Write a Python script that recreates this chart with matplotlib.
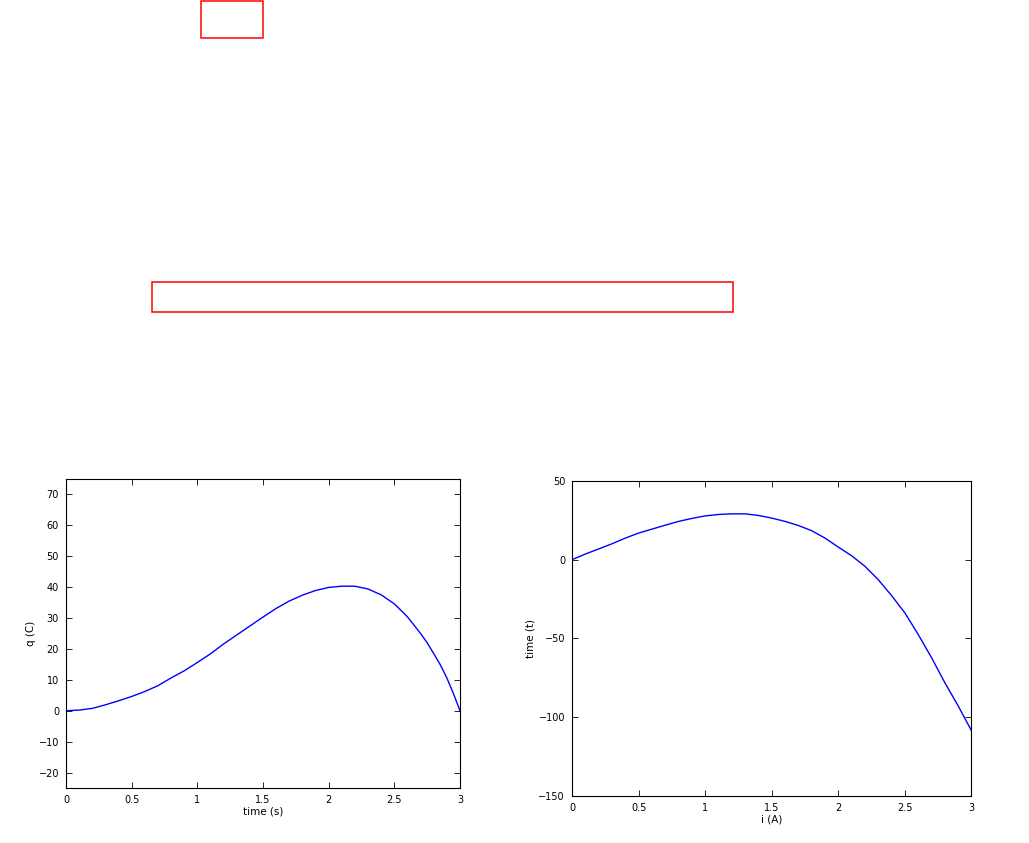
import numpy as np
from matplotlib import pyplot as plt
from matplotlib.patches import Rectangle

# 左图：电荷随时间变化
t = [0, 0.1, 0.2, 0.3, 0.4, 0.5, 0.6, 0.7, 0.8, 0.9, 1.0, 1.1, 1.2, 1.3, 1.4, 1.5,
     1.6, 1.7, 1.8, 1.9, 2.0, 2.1, 2.2, 2.3, 2.4, 2.5, 2.6, 2.7, 2.75, 2.8, 2.85, 2.9, 2.95, 3.0]
q = [0, 0.2, 0.75, 1.9, 3.2, 4.6, 6.2, 8.1, 10.6, 12.9, 15.6, 18.4, 21.6, 24.5, 27.4, 30.3,
     33.1, 35.5, 37.4, 38.9, 39.9, 40.3, 40.3, 39.4, 37.5, 34.6, 30.4, 25.0, 22.0, 18.5, 14.9, 10.6, 5.6, 0]
q_ticks = [-20, -10, 0, 10, 20, 30, 40, 50, 60, 70]

# 右图
cur = [0, 0.1, 0.2, 0.3, 0.4, 0.5, 0.6, 0.7, 0.8, 0.9, 1.0, 1.1, 1.2, 1.3, 1.4, 1.5,
       1.6, 1.7, 1.8, 1.9, 2.0, 2.1, 2.2, 2.3, 2.4, 2.5, 2.6, 2.7, 2.8, 2.9, 3.0]
tm = [0, 3.6, 6.8, 10.1, 13.7, 16.9, 19.4, 21.9, 24.3, 26.2, 27.8, 28.7, 29.1, 29.1, 28.1, 26.4,
      24.3, 21.7, 18.4, 13.7, 8.0, 2.5, -4.2, -12.7, -22.8, -33.8, -47.5, -62.2, -78.1, -92.8, -108.6]
tm_ticks = [-150, -100, -50, 0, 50]
x_ticks = [0, 0.5, 1, 1.5, 2, 2.5, 3]
x_labels = ['0', '0.5', '1', '1.5', '2', '2.5', '3']

plt.rcParams['font.family'] = ['DejaVu Sans']
plt.rcParams['font.size'] = 7

fig = plt.figure(figsize=(10.29, 8.43), dpi=100)

def style(ax):
    ax.tick_params(direction='in', top=True, right=True, length=4, width=0.6, labelsize=7, pad=5)
    for s in ax.spines.values():
        s.set_linewidth(0.8)

ax1 = fig.add_axes([0.0641, 0.0653, 0.3829, 0.3665])
ax1.plot(t, q, color='#0000ff', lw=1)
ax1.set_xlim(0, 3)
ax1.set_ylim(-25, 75)
ax1.set_xticks(x_ticks, x_labels)
ax1.set_yticks(q_ticks)
ax1.set_xlabel('time (s)', fontsize=7.5, labelpad=1)
ax1.set_ylabel('q (C)', fontsize=7.5, labelpad=2)
style(ax1)

ax2 = fig.add_axes([0.5559, 0.0558, 0.3882, 0.3737])
ax2.plot(cur, tm, color='#0000ff', lw=1)
ax2.set_xlim(0, 3)
ax2.set_ylim(-150, 50)
ax2.set_xticks(x_ticks, x_labels)
ax2.set_yticks(tm_ticks)
ax2.set_xlabel('i (A)', fontsize=7.5, labelpad=1)
ax2.set_ylabel('time (t)', fontsize=7.5, labelpad=2)
style(ax2)

# 上方两个红色空框
fig.add_artist(Rectangle((0.1953, 0.9549), 0.0603, 0.0445, transform=fig.transFigure,
                         fill=False, edgecolor='red', lw=1.1))
fig.add_artist(Rectangle((0.1477, 0.6299), 0.5646, 0.0356, transform=fig.transFigure,
                         fill=False, edgecolor='red', lw=1.1))

plt.savefig('out.png', dpi=100)
